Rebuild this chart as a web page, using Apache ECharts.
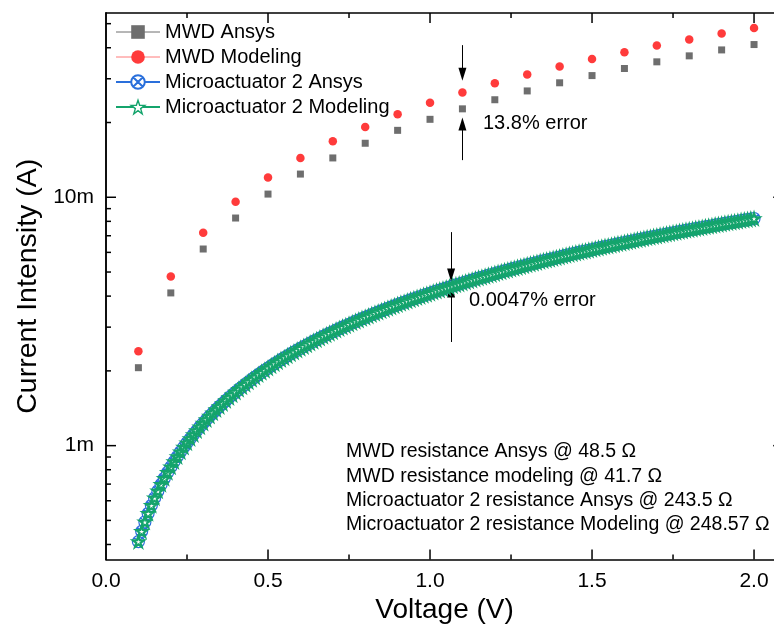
<!DOCTYPE html>
<html>
<head>
<meta charset="utf-8">
<title>Current vs Voltage</title>
<script src="https://cdn.jsdelivr.net/npm/echarts@6/dist/echarts.min.js"></script>
<style>
  html, body { margin: 0; padding: 0; background: #ffffff; overflow: hidden; }
  #chart { width: 790px; height: 633px; }
</style>
</head>
<body>
<div id="chart"></div>
<script>
// Voltage sweep for the MWD device (V)
const mwdVoltage = [0.1, 0.2, 0.3, 0.4, 0.5, 0.6, 0.7, 0.8, 0.9, 1.0,
  1.1, 1.2, 1.3, 1.4, 1.5, 1.6, 1.7, 1.8, 1.9, 2.0];
// MWD current (mA)
const mwdAnsysCurrent = [2.06, 4.12, 6.19, 8.25, 10.3, 12.4, 14.4, 16.5, 18.6, 20.6,
  22.7, 24.7, 26.8, 28.9, 30.9, 33.0, 35.1, 37.1, 39.2, 41.2];
const mwdModelingCurrent = [2.40, 4.80, 7.19, 9.59, 12.0, 14.4, 16.8, 19.2, 21.6, 24.0,
  26.4, 28.8, 31.2, 33.6, 36.0, 38.4, 40.8, 43.2, 45.6, 48.0];

// Voltage sweep for microactuator 2 (V)
const microVoltage = [0.10, 0.11, 0.12, 0.13, 0.14, 0.15, 0.16, 0.17, 0.18, 0.19,
  0.20, 0.21, 0.22, 0.23, 0.24, 0.25, 0.26, 0.27, 0.28, 0.29,
  0.30, 0.31, 0.32, 0.33, 0.34, 0.35, 0.36, 0.37, 0.38, 0.39,
  0.40, 0.41, 0.42, 0.43, 0.44, 0.45, 0.46, 0.47, 0.48, 0.49,
  0.50, 0.51, 0.52, 0.53, 0.54, 0.55, 0.56, 0.57, 0.58, 0.59,
  0.60, 0.61, 0.62, 0.63, 0.64, 0.65, 0.66, 0.67, 0.68, 0.69,
  0.70, 0.71, 0.72, 0.73, 0.74, 0.75, 0.76, 0.77, 0.78, 0.79,
  0.80, 0.81, 0.82, 0.83, 0.84, 0.85, 0.86, 0.87, 0.88, 0.89,
  0.90, 0.91, 0.92, 0.93, 0.94, 0.95, 0.96, 0.97, 0.98, 0.99,
  1.00, 1.01, 1.02, 1.03, 1.04, 1.05, 1.06, 1.07, 1.08, 1.09,
  1.10, 1.11, 1.12, 1.13, 1.14, 1.15, 1.16, 1.17, 1.18, 1.19,
  1.20, 1.21, 1.22, 1.23, 1.24, 1.25, 1.26, 1.27, 1.28, 1.29,
  1.30, 1.31, 1.32, 1.33, 1.34, 1.35, 1.36, 1.37, 1.38, 1.39,
  1.40, 1.41, 1.42, 1.43, 1.44, 1.45, 1.46, 1.47, 1.48, 1.49,
  1.50, 1.51, 1.52, 1.53, 1.54, 1.55, 1.56, 1.57, 1.58, 1.59,
  1.60, 1.61, 1.62, 1.63, 1.64, 1.65, 1.66, 1.67, 1.68, 1.69,
  1.70, 1.71, 1.72, 1.73, 1.74, 1.75, 1.76, 1.77, 1.78, 1.79,
  1.80, 1.81, 1.82, 1.83, 1.84, 1.85, 1.86, 1.87, 1.88, 1.89,
  1.90, 1.91, 1.92, 1.93, 1.94, 1.95, 1.96, 1.97, 1.98, 1.99, 2.00];
// Microactuator 2 current (mA)
const microAnsysCurrent = [0.411, 0.452, 0.493, 0.534, 0.575, 0.616, 0.657, 0.698, 0.739, 0.780,
  0.821, 0.862, 0.903, 0.945, 0.986, 1.027, 1.068, 1.109, 1.150, 1.191,
  1.232, 1.273, 1.314, 1.355, 1.396, 1.437, 1.478, 1.520, 1.561, 1.602,
  1.643, 1.684, 1.725, 1.766, 1.807, 1.848, 1.889, 1.930, 1.971, 2.012,
  2.053, 2.094, 2.136, 2.177, 2.218, 2.259, 2.300, 2.341, 2.382, 2.423,
  2.464, 2.505, 2.546, 2.587, 2.628, 2.669, 2.710, 2.752, 2.793, 2.834,
  2.875, 2.916, 2.957, 2.998, 3.039, 3.080, 3.121, 3.162, 3.203, 3.244,
  3.285, 3.326, 3.368, 3.409, 3.450, 3.491, 3.532, 3.573, 3.614, 3.655,
  3.696, 3.737, 3.778, 3.819, 3.860, 3.901, 3.943, 3.984, 4.025, 4.066,
  4.107, 4.148, 4.189, 4.230, 4.271, 4.312, 4.353, 4.394, 4.435, 4.476,
  4.517, 4.559, 4.600, 4.641, 4.682, 4.723, 4.764, 4.805, 4.846, 4.887,
  4.928, 4.969, 5.010, 5.051, 5.092, 5.133, 5.175, 5.216, 5.257, 5.298,
  5.339, 5.380, 5.421, 5.462, 5.503, 5.544, 5.585, 5.626, 5.667, 5.708,
  5.749, 5.791, 5.832, 5.873, 5.914, 5.955, 5.996, 6.037, 6.078, 6.119,
  6.160, 6.201, 6.242, 6.283, 6.324, 6.366, 6.407, 6.448, 6.489, 6.530,
  6.571, 6.612, 6.653, 6.694, 6.735, 6.776, 6.817, 6.858, 6.899, 6.940,
  6.982, 7.023, 7.064, 7.105, 7.146, 7.187, 7.228, 7.269, 7.310, 7.351,
  7.392, 7.433, 7.474, 7.515, 7.556, 7.598, 7.639, 7.680, 7.721, 7.762,
  7.803, 7.844, 7.885, 7.926, 7.967, 8.008, 8.049, 8.090, 8.131, 8.172, 8.214];
const microModelingCurrent = [0.411, 0.452, 0.493, 0.534, 0.575, 0.616, 0.657, 0.698, 0.739, 0.780,
  0.821, 0.862, 0.903, 0.945, 0.986, 1.027, 1.068, 1.109, 1.150, 1.191,
  1.232, 1.273, 1.314, 1.355, 1.396, 1.437, 1.478, 1.520, 1.561, 1.602,
  1.643, 1.684, 1.725, 1.766, 1.807, 1.848, 1.889, 1.930, 1.971, 2.012,
  2.053, 2.094, 2.136, 2.177, 2.218, 2.259, 2.300, 2.341, 2.382, 2.423,
  2.464, 2.505, 2.546, 2.587, 2.628, 2.669, 2.710, 2.752, 2.793, 2.834,
  2.875, 2.916, 2.957, 2.998, 3.039, 3.080, 3.121, 3.162, 3.203, 3.244,
  3.285, 3.326, 3.368, 3.409, 3.450, 3.491, 3.532, 3.573, 3.614, 3.655,
  3.696, 3.737, 3.778, 3.819, 3.860, 3.901, 3.943, 3.984, 4.025, 4.066,
  4.107, 4.148, 4.189, 4.230, 4.271, 4.312, 4.353, 4.394, 4.435, 4.476,
  4.517, 4.559, 4.600, 4.641, 4.682, 4.723, 4.764, 4.805, 4.846, 4.887,
  4.928, 4.969, 5.010, 5.051, 5.092, 5.133, 5.175, 5.216, 5.257, 5.298,
  5.339, 5.380, 5.421, 5.462, 5.503, 5.544, 5.585, 5.626, 5.667, 5.708,
  5.749, 5.791, 5.832, 5.873, 5.914, 5.955, 5.996, 6.037, 6.078, 6.119,
  6.160, 6.201, 6.242, 6.283, 6.324, 6.366, 6.407, 6.448, 6.489, 6.530,
  6.571, 6.612, 6.653, 6.694, 6.735, 6.776, 6.817, 6.858, 6.899, 6.940,
  6.982, 7.023, 7.064, 7.105, 7.146, 7.187, 7.228, 7.269, 7.310, 7.351,
  7.392, 7.433, 7.474, 7.515, 7.556, 7.598, 7.639, 7.680, 7.721, 7.762,
  7.803, 7.844, 7.885, 7.926, 7.967, 8.008, 8.049, 8.090, 8.131, 8.172, 8.214];

// Axis tick values
const xMajorTicks = [0.5, 1.0, 1.5, 2.0];
const xMinorTicks = [0.25, 0.75, 1.25, 1.75];
const yMajorTicks = [1, 10];
const yMinorTicks = [0.4, 0.5, 0.6, 0.7, 0.8, 0.9, 2, 3, 4, 5, 6, 7, 8, 9, 20, 30, 40, 50];

// Annotation texts
const errorNotes = ['13.8% error', '0.0047% error'];
const resistanceNotes = [
  'MWD resistance Ansys @ 48.5 \u03A9',
  'MWD resistance modeling @ 41.7 \u03A9',
  'Microactuator 2 resistance Ansys @ 243.5 \u03A9',
  'Microactuator 2 resistance Modeling @ 248.57 \u03A9'
];

const FONT = '"Liberation Sans", Arial, Helvetica, sans-serif';
const GREY = '#6e6e6e';
const RED = '#ff3b3b';
const BLUE = '#2a6fdb';
const GREEN = '#14a46c';

const crossedCircle = 'path://M50,2 A48,48 0 1,1 49.9,2 Z M16,16 L84,84 M84,16 L16,84';
const star = 'path://M50,2 L61.5,36 L97.5,36.5 L68.5,57.5 L79.5,92 L50,71 L20.5,92 L31.5,57.5 L2.5,36.5 L38.5,36 Z';

const pairs = (xs, ys) => xs.map((x, i) => [x, ys[i]]);

const xRange = { min: 0, max: 2.09 };
const yRange = { min: 0.348, max: 55.2 };

const frameLine = { color: '#000', width: 1.5 };

// Inward tick marks on all four frame sides, placed through the axis scales
function tickItems() {
  const items = [];
  const MAJOR = 10, MINOR = 5;
  xMajorTicks.forEach(v => {
    items.push([v, yRange.min, 0, -1, MAJOR]);
    items.push([v, yRange.max, 0, 1, MAJOR]);
  });
  xMinorTicks.forEach(v => {
    items.push([v, yRange.min, 0, -1, MINOR]);
    items.push([v, yRange.max, 0, 1, MINOR]);
  });
  yMajorTicks.forEach(v => {
    items.push([xRange.min, v, 1, 0, MAJOR]);
    items.push([xRange.max, v, -1, 0, MAJOR]);
  });
  yMinorTicks.forEach(v => {
    items.push([xRange.min, v, 1, 0, MINOR]);
    items.push([xRange.max, v, -1, 0, MINOR]);
  });
  return items;
}

const option = {
  backgroundColor: '#ffffff',
  animation: false,
  grid: { left: 106, top: 13, width: 677.2, height: 546.5, containLabel: false },
  xAxis: [
    {
      type: 'value', position: 'bottom', min: xRange.min, max: xRange.max, interval: 0.5,
      splitLine: { show: false },
      axisLine: { show: true, onZero: false, lineStyle: frameLine },
      axisTick: { show: false },
      axisLabel: {
        show: true, margin: 11, color: '#000', fontSize: 21, fontFamily: FONT,
        showMaxLabel: false,
        formatter: v => (Math.abs(v * 2 - Math.round(v * 2)) < 1e-6 ? v.toFixed(1) : '')
      },
      name: 'Voltage (V)', nameLocation: 'middle', nameGap: 34,
      nameTextStyle: { fontSize: 28, fontFamily: FONT, color: '#000' }
    },
    {
      type: 'value', position: 'top', min: xRange.min, max: xRange.max, interval: 0.5,
      splitLine: { show: false },
      axisLine: { show: true, onZero: false, lineStyle: frameLine },
      axisTick: { show: false }, axisLabel: { show: false }
    }
  ],
  yAxis: [
    {
      type: 'log', logBase: 10, position: 'left', min: yRange.min, max: yRange.max,
      splitLine: { show: false },
      axisLine: { show: true, lineStyle: frameLine },
      axisTick: { show: false },
      axisLabel: {
        show: true, margin: 12, color: '#000', fontSize: 21, fontFamily: FONT,
        showMinLabel: false, showMaxLabel: false,
        formatter: v => {
          const l = Math.log10(v);
          return Math.abs(l - Math.round(l)) < 1e-6 ? Math.round(v) + 'm' : '';
        }
      },
      name: 'Current Intensity (A)', nameLocation: 'middle', nameGap: 51,
      nameTextStyle: { fontSize: 28.5, fontFamily: FONT, color: '#000' }
    },
    {
      type: 'log', logBase: 10, position: 'right', min: yRange.min, max: yRange.max,
      splitLine: { show: false },
      axisLine: { show: true, lineStyle: frameLine },
      axisTick: { show: false }, axisLabel: { show: false }
    }
  ],
  legend: {
    orient: 'vertical', left: 115, top: 22, padding: 0,
    itemWidth: 44, itemHeight: 17, itemGap: 5,
    textStyle: { fontSize: 20, fontFamily: FONT, color: '#000', lineHeight: 20 },
    data: [
      { name: 'MWD Ansys', lineStyle: { opacity: 1, width: 1, color: GREY } },
      { name: 'MWD Modeling', lineStyle: { opacity: 1, width: 1, color: '#ff7b7b' } },
      { name: 'Microactuator 2 Ansys' },
      { name: 'Microactuator 2 Modeling', itemStyle: { borderWidth: 1.4 } }
    ]
  },
  graphic: [
    { type: 'text', x: 483, y: 123, style: { text: errorNotes[0], fontSize: 20, fontFamily: FONT, fill: '#000', verticalAlign: 'middle' } },
    { type: 'text', x: 469, y: 300, style: { text: errorNotes[1], fontSize: 20, fontFamily: FONT, fill: '#000', verticalAlign: 'middle' } }
  ].concat(resistanceNotes.map((t, i) => ({
    type: 'text', x: 346, y: 452 + i * 24.2,
    style: { text: t, fontSize: 19.5, fontFamily: FONT, fill: '#000', verticalAlign: 'middle' }
  }))),
  series: [
    {
      name: 'MWD Ansys', type: 'line', xAxisIndex: 0, yAxisIndex: 0,
      data: pairs(mwdVoltage, mwdAnsysCurrent),
      symbol: 'rect', symbolSize: 7, showSymbol: true,
      itemStyle: { color: GREY },
      lineStyle: { opacity: 0, color: GREY },
      z: 3,
      markLine: {
        silent: true, symbol: ['none', 'triangle'], symbolSize: [8, 13],
        lineStyle: { color: '#000', width: 1, type: 'solid' },
        label: { show: false }, animation: false,
        data: [
          [{ coord: [1.1, 40.98] }, { coord: [1.1, 31.32] }],
          [{ coord: [1.1, 14.11] }, { coord: [1.1, 19.71] }],
          [{ coord: [1.065, 7.24] }, { coord: [1.065, 4.863] }],
          [{ coord: [1.065, 2.614] }, { coord: [1.065, 4.194] }]
        ]
      }
    },
    {
      name: 'MWD Modeling', type: 'line', xAxisIndex: 0, yAxisIndex: 0,
      data: pairs(mwdVoltage, mwdModelingCurrent),
      symbol: 'circle', symbolSize: 8.5, showSymbol: true,
      itemStyle: { color: RED },
      lineStyle: { opacity: 0, color: RED },
      z: 3
    },
    {
      name: 'Microactuator 2 Ansys', type: 'line', xAxisIndex: 0, yAxisIndex: 0,
      data: pairs(microVoltage, microAnsysCurrent),
      symbol: crossedCircle, symbolSize: 12, showSymbol: true, showAllSymbol: true,
      itemStyle: { color: '#ffffff', borderColor: BLUE, borderWidth: 1.2 },
      lineStyle: { color: BLUE, width: 1 },
      z: 4
    },
    {
      name: 'Microactuator 2 Modeling', type: 'line', xAxisIndex: 0, yAxisIndex: 0,
      data: pairs(microVoltage, microModelingCurrent),
      symbol: star, symbolSize: 11, showSymbol: true, showAllSymbol: true,
      itemStyle: { color: '#ffffff', borderColor: GREEN, borderWidth: 2.2 },
      lineStyle: { color: GREEN, width: 1 },
      z: 5
    },
    {
      name: 'frame ticks', type: 'custom', xAxisIndex: 0, yAxisIndex: 0,
      silent: true, clip: false, z: 10,
      data: tickItems(),
      renderItem: (params, api) => {
        const p = api.coord([api.value(0), api.value(1)]);
        const dx = api.value(2), dy = api.value(3), len = api.value(4);
        return {
          type: 'line',
          shape: { x1: p[0], y1: p[1], x2: p[0] + dx * len, y2: p[1] + dy * len },
          style: { stroke: '#000', lineWidth: 1.5 }
        };
      }
    }
  ]
};

const chart = echarts.init(document.getElementById('chart'), null, { renderer: 'canvas' });
chart.setOption(option);
</script>
</body>
</html>
